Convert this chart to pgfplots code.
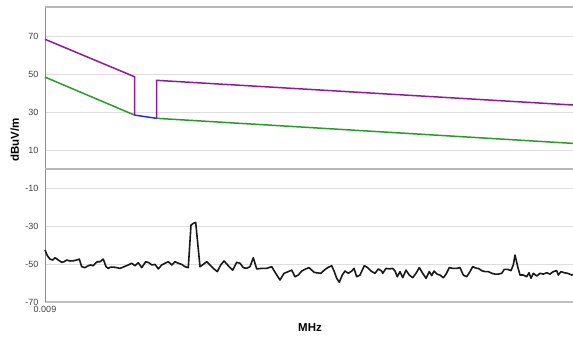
\documentclass[border=0pt]{standalone}
\usepackage{fontspec}
\setmainfont{Liberation Sans}
\usepackage{pgfplots}
\pgfplotsset{compat=1.18}
\definecolor{limpurple}{HTML}{8E1A9C}
\definecolor{limgreen}{HTML}{2A9A2A}
\definecolor{limblue}{HTML}{1E2EF0}
\begin{document}
\begin{tikzpicture}
\path[use as bounding box] (0,0) rectangle (573pt,338pt);
\begin{axis}[
  at={(45pt,36pt)}, anchor=south west,
  scale only axis, width=528pt, height=295pt,
  xmin=45, xmax=573, ymin=-70, ymax=85.3,
  ytick={-70,-50,-30,-10,10,30,50,70},
  xtick={45}, xticklabels={0.009},
  ymajorgrids,
  grid style={draw=black!13, line width=0.9pt},
  extra y ticks={0}, extra y tick labels={},
  extra y tick style={grid style={draw=black!28, line width=1.3pt}},
  axis x line*=bottom, axis y line*=left,
  axis line style={draw=black!45, line width=1pt, -},
  x axis line style={line width=1.4pt, draw=black!25},
  tick style={draw=none},
  /pgf/number format/assume math mode=true,
  ticklabel style={font=\fontsize{9}{10}\selectfont, text=black!75},
  yticklabel style={xshift=-3pt},
  xticklabel style={yshift=-1pt},
  xlabel={MHz}, ylabel={dBuV/m},
  label style={font=\fontsize{11.5}{13}\selectfont\bfseries},
  xlabel style={at={(axis description cs:0.502,-0.088)}, anchor=center},
  ylabel style={at={(axis description cs:-0.057,0.55)}, anchor=center, rotate=0},
  clip=false,
]
\draw[black!28, line width=1.3pt] (rel axis cs:0,1) -- (rel axis cs:1,1);
\addplot[limgreen, line width=1.5pt] coordinates {(45,48.4) (134.5,28.4)};
\addplot[limgreen, line width=1.5pt] coordinates {(156.5,26.7) (573,13.5)};
\addplot[limpurple, line width=1.5pt] coordinates {(45,68.3) (134.5,48.6) (134.5,28.4)};
\addplot[limpurple, line width=1.5pt] coordinates {(156.5,26.7) (156.5,46.7) (573,33.7)};
\addplot[limblue, line width=1.5pt] coordinates {(134.5,28.4) (156.5,26.7)};
\addplot[black!90, line width=1.6pt, line join=round] coordinates {
(45,-42.6) (47.3,-45.6) (50,-47.4) (52.7,-47.9) (55,-46.7) (58.3,-47.9) (61.7,-49.1) (64,-48.8)
(66.7,-47.9) (70,-48.4) (73.3,-48.3) (76.7,-47.9) (79.3,-47.4) (81.7,-51.4) (85,-51.9) (88.3,-50.9)
(90.7,-50.5) (93.3,-50.9) (95,-49.8) (97.3,-48.8) (100,-48.8) (103.3,-47.4) (106,-51.4) (108.3,-52.3)
(110.7,-51.6) (113.3,-51.6) (116.7,-51.9) (120,-52.3) (123.3,-51.6) (126,-51) (128.3,-50.5) (131.7,-49.6)
(135,-50.9) (138.3,-49.3) (141.7,-51.9) (145.7,-48.8) (149,-49.3) (151.7,-50.5) (155,-50.2) (158.3,-52.6)
(161.7,-50.5) (165,-49.6) (168.3,-48.8) (171.7,-50.5) (175,-48.8) (178.3,-49.6) (181.7,-50.2) (185,-51.4)
(188.3,-51.9) (191,-29.5) (193.3,-28.6) (195.7,-28.1) (200,-51.4) (203.3,-50.2) (206.7,-48.8) (210,-50.5)
(213.3,-52.3) (217.3,-54) (220.7,-50.5) (224,-48.4) (228.3,-50.9) (232.7,-53.2) (236.7,-49.1) (240,-49.6)
(243.3,-51.9) (246.7,-52.3) (250,-51.4) (253.3,-46.7) (256.7,-52.6) (261.7,-52.3) (266.7,-52.3) (271.7,-51.4)
(275.7,-54.9) (280,-58.4) (284,-54.9) (288.3,-54) (291.7,-53.2) (295,-56.7) (298.3,-55.8) (301.7,-53.7)
(305.7,-52.6) (309,-51.9) (311.7,-53.2) (314.3,-54.4) (317.7,-54.7) (321,-54.9) (324.3,-53.2) (327.7,-51.9)
(331.7,-50.9) (334.3,-54) (336.7,-57.5) (339.3,-59.6) (342.3,-55.8) (345,-53.7) (348.3,-54.9) (351.7,-53.7)
(354,-52.3) (356.7,-56.7) (360,-55.8) (364.3,-50.9) (367.7,-51.9) (371,-53.7) (375,-54.9) (378.3,-52.6)
(381.7,-53.7) (382.7,-54.9) (386,-52.3) (389.3,-52.6) (392.7,-52.3) (395,-53.7) (397.3,-56.7) (400,-54)
(402.7,-57.2) (406,-53.2) (409.3,-55.8) (412.7,-57.2) (416,-54.9) (419.3,-51.9) (422.7,-54.9) (426,-57.5)
(429.3,-54) (431.7,-56.1) (434,-53.7) (437.3,-55.4) (440,-55.8) (443.3,-57.2) (446,-55.4) (449.3,-51.9)
(452.7,-52.3) (456.7,-52.3) (460,-51.9) (463.3,-55.8) (466.7,-56.7) (470,-54) (472.7,-51.4) (476.7,-52.3)
(478.3,-52.3) (481.7,-53.5) (485,-54) (488.3,-54) (491.7,-54.9) (495,-55.3) (498.3,-55.3) (501.7,-54.9)
(504.3,-52.8) (507.7,-52.8) (511,-53.5) (513.3,-50.5) (515,-45.3) (517.7,-51.4) (520,-55.8) (523.3,-55.8)
(526.7,-56.7) (529,-54.6) (531,-57.5) (533.3,-54.9) (536.7,-56.3) (540,-54.9) (543.3,-55.3) (546.7,-54.6)
(550,-55.3) (553.3,-54) (556.7,-53.5) (558.3,-55.8) (561,-54) (564.3,-54.6) (567.7,-54.9) (571.7,-55.8)
(573,-55.5)};
\end{axis}
\end{tikzpicture}
\end{document}
